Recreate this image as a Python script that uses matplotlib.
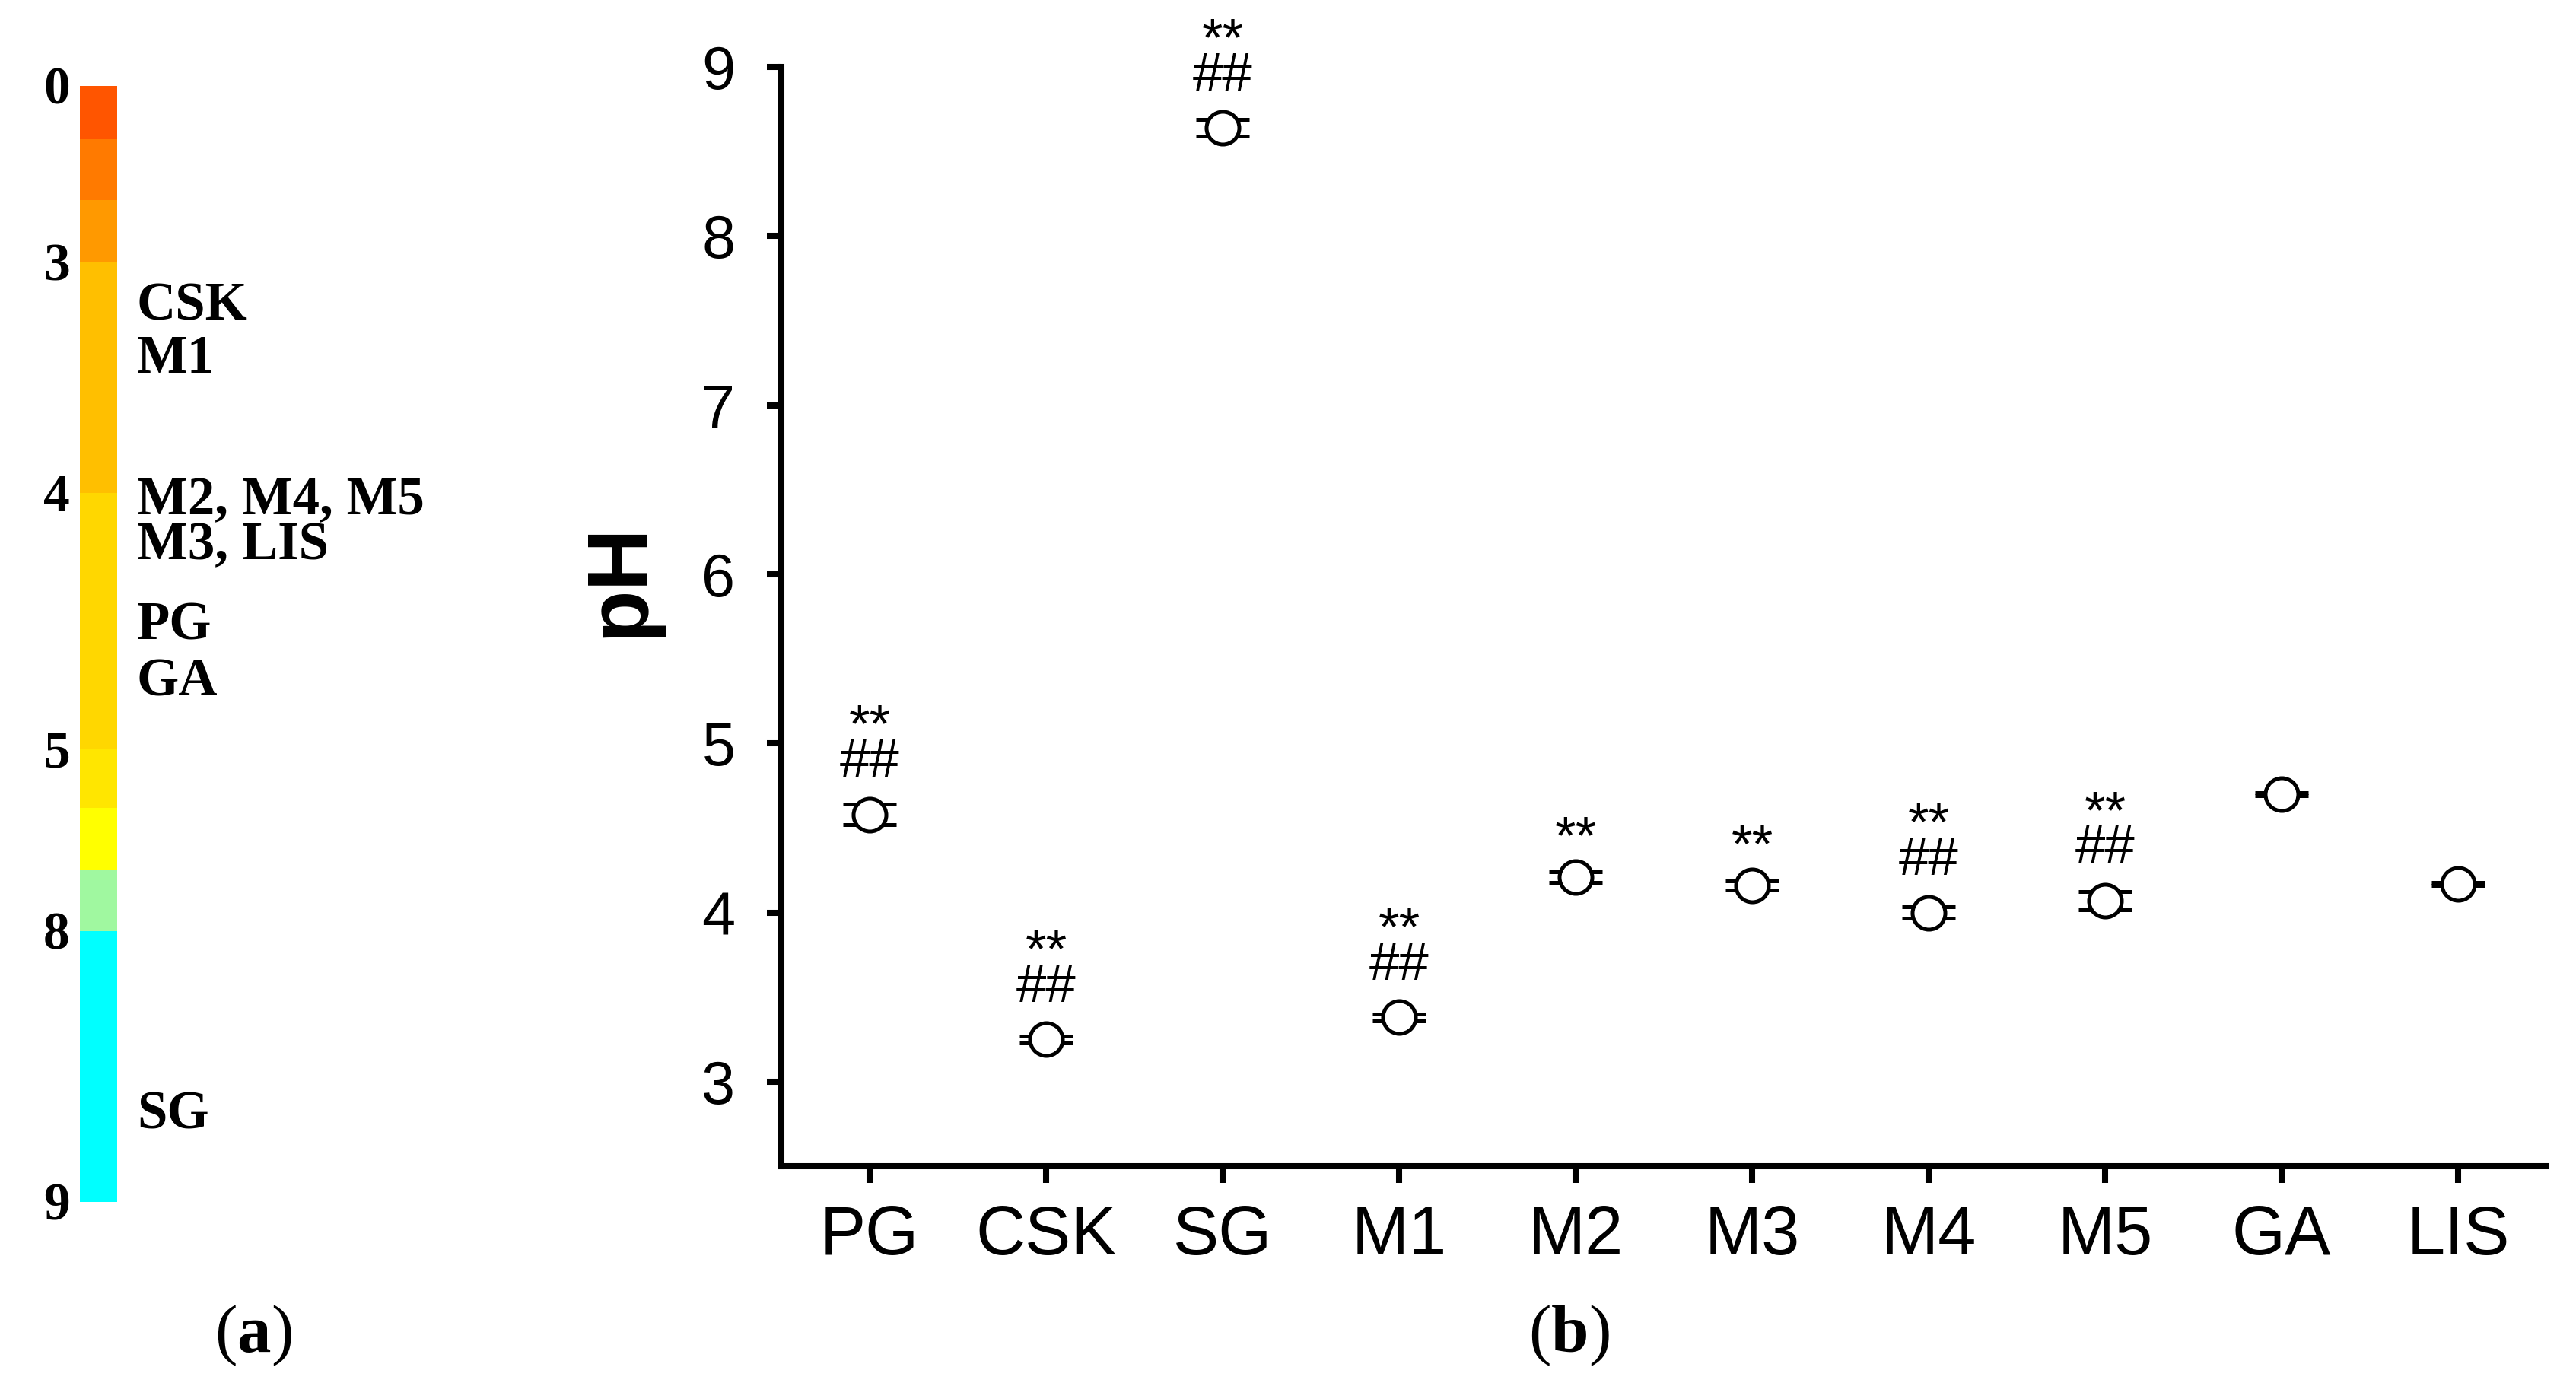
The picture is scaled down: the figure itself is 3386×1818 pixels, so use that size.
import matplotlib
matplotlib.use('Agg')
import matplotlib.pyplot as plt
import numpy as np

# ---------------- data ----------------
categories = ['PG', 'CSK', 'SG', 'M1', 'M2', 'M3', 'M4', 'M5', 'GA', 'LIS']
ph_mean = [4.58, 3.25, 8.64, 3.38, 4.21, 4.16, 4.00, 4.07, 4.70, 4.17]
ph_err = [0.06, 0.02, 0.05, 0.02, 0.03, 0.026, 0.034, 0.056, 0.01, 0.01]
sig_star = ['**', '**', '**', '**', '**', '**', '**', '**', '', '']
sig_hash = ['##', '##', '##', '##', '', '', '##', '##', '', '']
y_ticks = [3, 4, 5, 6, 7, 8, 9]

scale_ph = [0, 1, 2, 3, 4, 5, 6, 7, 8, 9]
scale_colors = ['#FF5500', '#FF7A00', '#FF9900', '#FFBF00', '#FFD700',
                '#FFE600', '#FFFF00', '#A0F8A0', '#00FFFF']
scale_tick_ph = [0, 3, 4, 5, 8, 9]
scale_labels = ['CSK', 'M1', 'M2, M4, M5\nM3, LIS', 'PG', 'GA', 'SG']
scale_label_ph = [3.19, 3.42, 4.12, 4.52, 4.74, 8.68]

# ---------------- layout (figure pixels) ----------------
W, H = 3387, 1818
DPI = 200
bar_edge_px = [113, 183, 263, 345, 648, 985, 1062, 1143, 1224, 1580]
bar_left_px, bar_right_px = 105, 154

SANS = 'Liberation Sans'
SERIF = 'Liberation Serif'
plt.rcParams['mathtext.fontset'] = 'custom'
plt.rcParams['mathtext.rm'] = SERIF
plt.rcParams['mathtext.bf'] = SERIF + ':bold'

fig = plt.figure(figsize=(W / DPI, H / DPI), dpi=DPI)
fig.patch.set_facecolor('white')

# ---------------- panel (a): pH scale bar ----------------
axa = fig.add_axes([bar_left_px / W, 1 - bar_edge_px[-1] / H,
                    (bar_right_px - bar_left_px) / W,
                    (bar_edge_px[-1] - bar_edge_px[0]) / H])


def ph_to_px(ph):
    return np.interp(ph, scale_ph, bar_edge_px)


for i, c in enumerate(scale_colors):
    y0 = ph_to_px(scale_ph[i])
    y1 = ph_to_px(scale_ph[i + 1])
    axa.bar(0.5, y1 - y0, bottom=y0, width=1.0, color=c, linewidth=0)
axa.set_xlim(0, 1)
axa.set_ylim(bar_edge_px[-1], bar_edge_px[0])
axa.axis('off')

for t in scale_tick_ph:
    axa.text(-0.27, ph_to_px(t) + 7, str(t), ha='right', va='center',
             fontsize=25, fontweight='bold', family=SERIF, clip_on=False)
for lab, p in zip(scale_labels, scale_label_ph):
    axa.text(1.53, ph_to_px(p), lab, ha='left', va='center',
             multialignment='left', linespacing=0.87,
             fontsize=25.5, fontweight='bold', family=SERIF, clip_on=False)

# ---------------- panel (b): pH per compartment ----------------
ax_l, ax_r, ax_t, ax_b = 1027, 3347, 88, 1533
ax = fig.add_axes([ax_l / W, 1 - ax_b / H, (ax_r - ax_l) / W, (ax_b - ax_t) / H])
x = np.arange(len(categories))

ax.errorbar(x, ph_mean, yerr=ph_err, fmt='none', ecolor='black',
            elinewidth=1.8, capsize=12.6, capthick=1.8, zorder=2)
ax.plot(x, ph_mean, linestyle='none', marker='o', markersize=15.5,
        markerfacecolor='white', markeredgecolor='black',
        markeredgewidth=1.8, zorder=3)

for xi, v, s, h in zip(x, ph_mean, sig_star, sig_hash):
    if s and h:
        ax.annotate(s + '\n' + h, xy=(xi, v), xytext=(0, 32.5),
                    textcoords='offset points', ha='center', va='center',
                    multialignment='center', linespacing=0.6,
                    fontsize=25.5, family=SANS)
    elif s or h:
        ax.annotate(s or h, xy=(xi, v), xytext=(0, 11.0),
                    textcoords='offset points', ha='center', va='baseline',
                    fontsize=25.5, family=SANS)

ax.set_xlim(-0.5, 9.5)
ax.set_ylim(2.5, 9)
ax.set_xticks(x)
ax.set_xticklabels(categories, fontsize=32.5, family=SANS)
ax.set_yticks(y_ticks)
ax.set_yticklabels([str(t) for t in y_ticks], fontsize=28.5, family=SANS)
for side in ['top', 'right']:
    ax.spines[side].set_visible(False)
for side in ['left', 'bottom']:
    ax.spines[side].set_linewidth(2.9)
ax.tick_params(axis='y', direction='out', length=6.8, width=2.9, pad=15)
ax.tick_params(axis='x', direction='out', length=8, width=2.9, pad=10)

fig.text(815 / W, 1 - 762 / H, 'pH', rotation=90, ha='center', va='center',
         fontsize=41, fontweight='bold', family=SANS)

# panel captions
fig.text(333 / W, 1 - 1754 / H, r'$\mathrm{(}\mathbf{a}\mathrm{)}$',
         ha='center', va='center', fontsize=32)
fig.text(2062 / W, 1 - 1754 / H, r'$\mathrm{(}\mathbf{b}\mathrm{)}$',
         ha='center', va='center', fontsize=32)

fig.savefig('out.png', dpi=DPI, facecolor='white')
